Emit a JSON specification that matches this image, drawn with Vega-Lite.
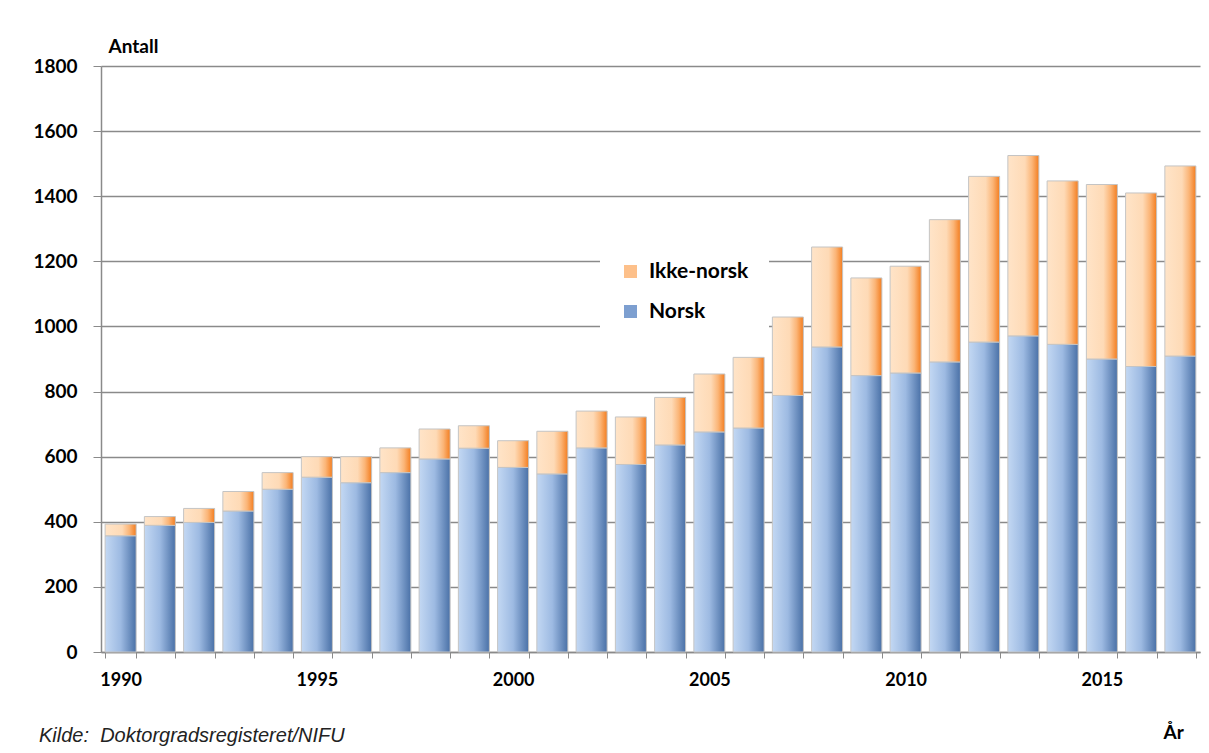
{
  "$schema": "https://vega.github.io/schema/vega-lite/v6.json",
  "width": 1099,
  "height": 586,
  "autosize": "none",
  "padding": {"left": 101, "top": 66, "right": 9, "bottom": 101},
  "background": "white",
  "title": {
    "text": "Kilde:\u00a0 Doktorgradsregisteret/NIFU",
    "orient": "bottom",
    "anchor": "start",
    "frame": "group",
    "dx": -62,
    "offset": 0,
    "baseline": "alphabetic",
    "font": "Liberation Sans",
    "fontSize": 20,
    "fontStyle": "italic",
    "fontWeight": "normal",
    "color": "#222222"
  },
  "data": {
    "values": [
      {"year": 1990, "serie": "Norsk", "antall": 357}, {"year": 1990, "serie": "Ikke-norsk", "antall": 36},
      {"year": 1991, "serie": "Norsk", "antall": 389}, {"year": 1991, "serie": "Ikke-norsk", "antall": 27},
      {"year": 1992, "serie": "Norsk", "antall": 398}, {"year": 1992, "serie": "Ikke-norsk", "antall": 43},
      {"year": 1993, "serie": "Norsk", "antall": 433}, {"year": 1993, "serie": "Ikke-norsk", "antall": 60},
      {"year": 1994, "serie": "Norsk", "antall": 500}, {"year": 1994, "serie": "Ikke-norsk", "antall": 51},
      {"year": 1995, "serie": "Norsk", "antall": 537}, {"year": 1995, "serie": "Ikke-norsk", "antall": 63},
      {"year": 1996, "serie": "Norsk", "antall": 520}, {"year": 1996, "serie": "Ikke-norsk", "antall": 80},
      {"year": 1997, "serie": "Norsk", "antall": 551}, {"year": 1997, "serie": "Ikke-norsk", "antall": 76},
      {"year": 1998, "serie": "Norsk", "antall": 593}, {"year": 1998, "serie": "Ikke-norsk", "antall": 92},
      {"year": 1999, "serie": "Norsk", "antall": 626}, {"year": 1999, "serie": "Ikke-norsk", "antall": 69},
      {"year": 2000, "serie": "Norsk", "antall": 567}, {"year": 2000, "serie": "Ikke-norsk", "antall": 82},
      {"year": 2001, "serie": "Norsk", "antall": 547}, {"year": 2001, "serie": "Ikke-norsk", "antall": 131},
      {"year": 2002, "serie": "Norsk", "antall": 627}, {"year": 2002, "serie": "Ikke-norsk", "antall": 113},
      {"year": 2003, "serie": "Norsk", "antall": 576}, {"year": 2003, "serie": "Ikke-norsk", "antall": 146},
      {"year": 2004, "serie": "Norsk", "antall": 636}, {"year": 2004, "serie": "Ikke-norsk", "antall": 146},
      {"year": 2005, "serie": "Norsk", "antall": 676}, {"year": 2005, "serie": "Ikke-norsk", "antall": 178},
      {"year": 2006, "serie": "Norsk", "antall": 688}, {"year": 2006, "serie": "Ikke-norsk", "antall": 217},
      {"year": 2007, "serie": "Norsk", "antall": 788}, {"year": 2007, "serie": "Ikke-norsk", "antall": 241},
      {"year": 2008, "serie": "Norsk", "antall": 937}, {"year": 2008, "serie": "Ikke-norsk", "antall": 307},
      {"year": 2009, "serie": "Norsk", "antall": 849}, {"year": 2009, "serie": "Ikke-norsk", "antall": 300},
      {"year": 2010, "serie": "Norsk", "antall": 857}, {"year": 2010, "serie": "Ikke-norsk", "antall": 328},
      {"year": 2011, "serie": "Norsk", "antall": 891}, {"year": 2011, "serie": "Ikke-norsk", "antall": 437},
      {"year": 2012, "serie": "Norsk", "antall": 952}, {"year": 2012, "serie": "Ikke-norsk", "antall": 509},
      {"year": 2013, "serie": "Norsk", "antall": 971}, {"year": 2013, "serie": "Ikke-norsk", "antall": 554},
      {"year": 2014, "serie": "Norsk", "antall": 945}, {"year": 2014, "serie": "Ikke-norsk", "antall": 502},
      {"year": 2015, "serie": "Norsk", "antall": 900}, {"year": 2015, "serie": "Ikke-norsk", "antall": 536},
      {"year": 2016, "serie": "Norsk", "antall": 877}, {"year": 2016, "serie": "Ikke-norsk", "antall": 533},
      {"year": 2017, "serie": "Norsk", "antall": 909}, {"year": 2017, "serie": "Ikke-norsk", "antall": 584}
    ]
  },
  "transform": [
    {"stack": "antall", "groupby": ["year"], "sort": [{"field": "serie", "order": "descending"}], "as": ["y0", "y1"]}
  ],
  "encoding": {
    "x": {
      "field": "year",
      "type": "ordinal",
      "scale": {"paddingInner": 0.21, "paddingOuter": 0.105},
      "axis": {
        "title": "År",
        "titleX": 1062,
        "titleY": 86,
        "titleAlign": "left",
        "titleBaseline": "alphabetic",
        "titleFont": "Lato",
        "titleFontSize": 19,
        "titleFontWeight": "bold",
        "titleColor": "#000000",
        "labelAngle": 0,
        "labelExpr": "datum.value % 5 === 0 ? datum.value : ''",
        "labelFont": "Lato",
        "labelFontSize": 18,
        "labelFontWeight": "bold",
        "labelColor": "#000000",
        "labelPadding": 13,
        "tickBand": "extent",
        "tickSize": 6,
        "tickColor": "#8a8a8a",
        "tickWidth": 1,
        "domainColor": "#8a8a8a",
        "domainWidth": 1.5,
        "grid": false
      }
    },
    "y": {
      "field": "y1",
      "type": "quantitative",
      "scale": {"domain": [0, 1800], "nice": false},
      "axis": {
        "values": [0, 200, 400, 600, 800, 1000, 1200, 1400, 1600, 1800],
        "format": "d",
        "title": "Antall",
        "titleAngle": 0,
        "titleX": 7,
        "titleY": -14,
        "titleAlign": "left",
        "titleBaseline": "alphabetic",
        "titleFont": "Lato",
        "titleFontSize": 19,
        "titleFontWeight": "bold",
        "titleColor": "#000000",
        "labelFont": "Lato",
        "labelFontSize": 19,
        "labelFontWeight": "bold",
        "labelColor": "#000000",
        "labelPadding": 16,
        "tickSize": 8,
        "tickColor": "#8a8a8a",
        "domainColor": "#8a8a8a",
        "domainWidth": 1.5,
        "grid": true,
        "gridColor": "#8a8a8a",
        "gridWidth": 1.5
      }
    },
    "y2": {"field": "y0"}
  },
  "layer": [
    {
      "transform": [{"filter": "datum.serie === 'Norsk'"}],
      "mark": {
        "type": "bar",
        "stroke": "#c4c4c4",
        "strokeWidth": 1,
        "fill": {"gradient": "linear", "x1": 0, "x2": 1, "y1": 0, "y2": 0, "stops": [
          {"offset": 0, "color": "#c3d8f3"},
          {"offset": 0.5, "color": "#9dbae2"},
          {"offset": 1, "color": "#4a71a7"}
        ]}
      }
    },
    {
      "transform": [{"filter": "datum.serie === 'Ikke-norsk'"}],
      "mark": {
        "type": "bar",
        "stroke": "#c4c4c4",
        "strokeWidth": 1,
        "fill": {"gradient": "linear", "x1": 0, "x2": 1, "y1": 0, "y2": 0, "stops": [
          {"offset": 0, "color": "#ffe4c8"},
          {"offset": 0.55, "color": "#fedab6"},
          {"offset": 0.78, "color": "#fbb577"},
          {"offset": 1, "color": "#f37d1f"}
        ]}
      }
    },
    {
      "mark": {"type": "bar", "opacity": 0},
      "encoding": {
        "color": {
          "field": "serie",
          "type": "nominal",
          "scale": {"domain": ["Ikke-norsk", "Norsk"], "range": ["#fdc08a", "#7d9fd0"]},
          "legend": {
            "orient": "none",
            "legendX": 499,
            "legendY": 175,
            "title": null,
            "fillColor": "white",
            "padding": 20,
            "symbolType": "square",
            "symbolSize": 169,
            "symbolStrokeWidth": 0,
            "symbolOpacity": 1,
            "labelFont": "Lato",
            "labelFontSize": 21,
            "labelFontWeight": "bold",
            "labelColor": "#000000",
            "labelOffset": 8,
            "rowPadding": 18,
            "encode": {
              "symbols": {
                "update": {
                  "fill": {"signal": "datum.value === 'Norsk' ? {gradient: 'linear', x1: 0, y1: 0, x2: 1, y2: 0, stops: [{offset: 0, color: '#c3d8f3'}, {offset: 0.5, color: '#9dbae2'}, {offset: 1, color: '#4a71a7'}]} : {gradient: 'linear', x1: 0, y1: 0, x2: 1, y2: 0, stops: [{offset: 0, color: '#ffe4c8'}, {offset: 0.55, color: '#fedab6'}, {offset: 0.78, color: '#fbb577'}, {offset: 1, color: '#f37d1f'}]}"},
                  "opacity": {"value": 1}
                }
              }
            }
          }
        }
      }
    }
  ],
  "config": {"view": {"stroke": null}}
}
